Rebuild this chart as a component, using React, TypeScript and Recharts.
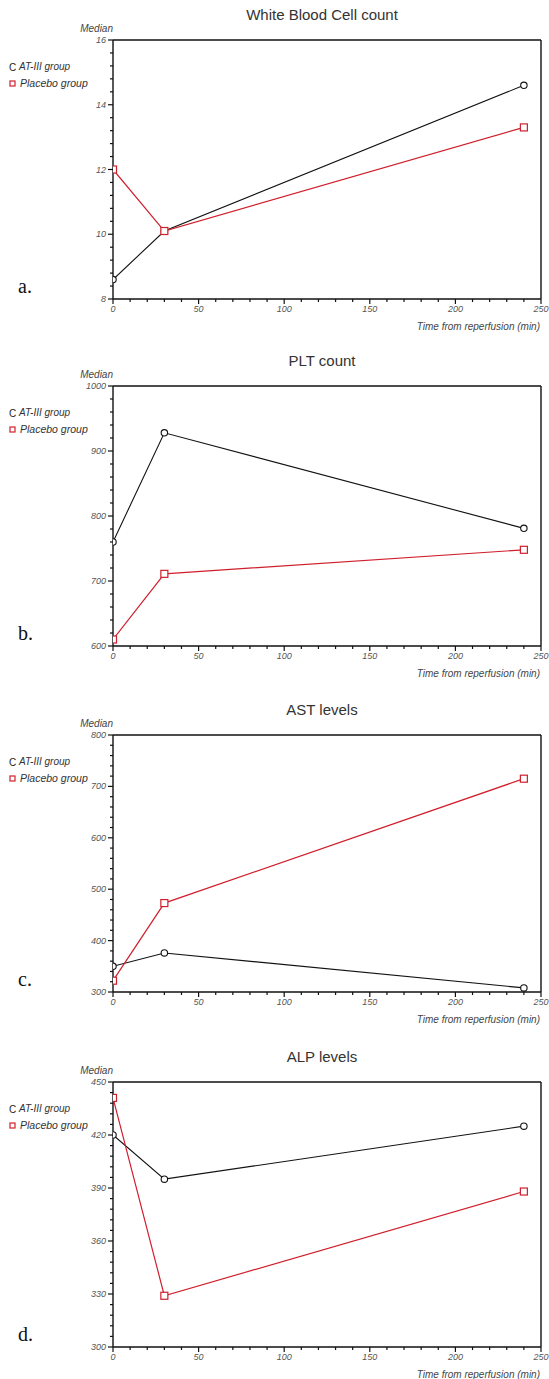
import React from 'react';
import { LineChart, Line, XAxis, YAxis, ReferenceLine } from 'recharts';

// time points (min from reperfusion)
const timePoints = [0, 30, 240];
const xMajorTicks = [0, 50, 100, 150, 200, 250];

// a. White Blood Cell count
const wbcAT = [8.6, 10.1, 14.6];
const wbcPlacebo = [12.0, 10.1, 13.3];
const wbcTicks = [8, 10, 12, 14, 16];

// b. PLT count
const pltAT = [760, 928, 781];
const pltPlacebo = [610, 711, 748];
const pltTicks = [600, 700, 800, 900, 1000];

// c. AST levels
const astAT = [350, 376, 308];
const astPlacebo = [322, 473, 715];
const astTicks = [300, 400, 500, 600, 700, 800];

// d. ALP levels
const alpAT = [420, 395, 425];
const alpPlacebo = [441, 329, 388];
const alpTicks = [300, 330, 360, 390, 420, 450];

const seriesNames = ['AT-III group', 'Placebo group'];
const RED = '#d01f2c';
const FONT = '"Liberation Sans", Arial, sans-serif';

type PanelDef = {
  letter: string;
  title: string;
  at: number[];
  pl: number[];
  majors: number[];
  minorDiv: number;
  plotTop: number;
  plotBottom: number;
};

const panels: PanelDef[] = [
  { letter: 'a.', title: 'White Blood Cell count', at: wbcAT, pl: wbcPlacebo, majors: wbcTicks, minorDiv: 5, plotTop: 40, plotBottom: 299 },
  { letter: 'b.', title: 'PLT count', at: pltAT, pl: pltPlacebo, majors: pltTicks, minorDiv: 5, plotTop: 386, plotBottom: 646 },
  { letter: 'c.', title: 'AST levels', at: astAT, pl: astPlacebo, majors: astTicks, minorDiv: 5, plotTop: 735, plotBottom: 992 },
  { letter: 'd.', title: 'ALP levels', at: alpAT, pl: alpPlacebo, majors: alpTicks, minorDiv: 5, plotTop: 1082, plotBottom: 1347 },
];

const PLOT_LEFT = 113;
const PLOT_RIGHT = 541;
const W = 549;
const MARGIN_T = 40;
const MARGIN_B = 40;
const X_AXIS_H = 1;

function withMinors(majors: number[], div: number): number[] {
  const out: number[] = [];
  for (let i = 0; i < majors.length - 1; i++) {
    const step = (majors[i + 1] - majors[i]) / div;
    for (let k = 0; k < div; k++) out.push(+(majors[i] + k * step).toFixed(4));
  }
  out.push(majors[majors.length - 1]);
  return out;
}

const isMajor = (v: number, majors: number[]) => majors.some((m) => Math.abs(m - v) < 1e-6);

const YTick = (props: any) => {
  const { x, y, payload, majors } = props;
  const major = isMajor(payload.value, majors);
  return (
    <g>
      <line x1={x - (major ? 5 : 3)} x2={x} y1={y} y2={y} stroke="#111" strokeWidth={1.2} />
      {major && (
        <text x={x - 7} y={y} textAnchor="end" dominantBaseline="central" fontSize={9} fontStyle="italic" fontFamily={FONT} fill="#555">
          {payload.value}
        </text>
      )}
    </g>
  );
};

const XTick = (props: any) => {
  const { x, y, payload } = props;
  const major = isMajor(payload.value, xMajorTicks);
  return (
    <g>
      <line x1={x} x2={x} y1={y} y2={y + (major ? 5 : 3)} stroke="#111" strokeWidth={1.2} />
      {major && (
        <text x={x} y={y + 10} textAnchor="middle" dominantBaseline="central" fontSize={9} fontStyle="italic" fontFamily={FONT} fill="#555">
          {payload.value}
        </text>
      )}
    </g>
  );
};

const SquareDot = (props: any) => {
  const { cx, cy, index } = props;
  if (cx == null || cy == null) return <g key={index} />;
  return <rect key={index} x={cx - 3.5} y={cy - 3.5} width={7} height={7} fill="#fff" stroke={RED} strokeWidth={1.2} />;
};

function Panel({ def }: { def: PanelDef }) {
  const plotH = def.plotBottom - def.plotTop;
  const H = plotH + MARGIN_T + MARGIN_B;
  const top = def.plotTop - MARGIN_T;
  const data = timePoints.map((t, i) => ({ t, at: def.at[i], pl: def.pl[i] }));
  const yMin = def.majors[0];
  const yMax = def.majors[def.majors.length - 1];
  const xTicks = withMinors(xMajorTicks, 5);
  const yTicks = withMinors(def.majors, def.minorDiv);
  const P = MARGIN_T;
  const B = MARGIN_T + plotH;
  return (
    <div style={{ position: 'absolute', left: 0, top, width: W, height: H }}>
      <LineChart width={W} height={H} data={data} margin={{ top: MARGIN_T, right: W - PLOT_RIGHT, bottom: MARGIN_B - X_AXIS_H, left: 63 }}>
        <XAxis
          dataKey="t"
          type="number"
          domain={[0, 250]}
          ticks={xTicks}
          interval={0}
          height={X_AXIS_H}
          tickSize={0}
          tickMargin={0}
          tickLine={false}
          axisLine={{ stroke: '#111', strokeWidth: 1.4 }}
          tick={(p: any) => <XTick {...p} />}
          allowDataOverflow
        />
        <YAxis
          type="number"
          domain={[yMin, yMax]}
          ticks={yTicks}
          interval={0}
          width={50}
          tickSize={0}
          tickMargin={0}
          tickLine={false}
          axisLine={{ stroke: '#111', strokeWidth: 1.4 }}
          tick={(p: any) => <YTick {...p} majors={def.majors} />}
          allowDataOverflow
        />
        <ReferenceLine y={yMax} stroke="#111" strokeWidth={1.4} />
        <ReferenceLine x={250} stroke="#111" strokeWidth={1.4} />
        <Line
          dataKey="at"
          name={seriesNames[0]}
          stroke="#111"
          strokeWidth={1.1}
          dot={{ r: 3.2, stroke: '#111', strokeWidth: 1.1, fill: '#fff' }}
          isAnimationActive={false}
        />
        <Line
          dataKey="pl"
          name={seriesNames[1]}
          stroke={RED}
          strokeWidth={1.2}
          dot={(p: any) => <SquareDot {...p} />}
          isAnimationActive={false}
        />
      </LineChart>
      <svg width={W} height={H} style={{ position: 'absolute', left: 0, top: 0, pointerEvents: 'none' }}>
        <text x={322} y={P - 26} textAnchor="middle" dominantBaseline="central" fontSize={15} fontFamily={FONT} fill="#333">
          {def.title}
        </text>
        <text x={PLOT_LEFT} y={P - 12} textAnchor="end" dominantBaseline="central" fontSize={10} fontStyle="italic" fontFamily={FONT} fill="#444">
          Median
        </text>
        <text x={9} y={P + 27} dominantBaseline="central" fontSize={10} fontFamily={FONT} fill="#222">
          C
        </text>
        <text x={19} y={P + 26} dominantBaseline="central" fontSize={10} fontStyle="italic" fontFamily={FONT} fill="#333">
          {seriesNames[0]}
        </text>
        <rect x={10} y={P + 41} width={5} height={5} fill="none" stroke={RED} strokeWidth={1.2} />
        <text x={20} y={P + 43} dominantBaseline="central" fontSize={10.5} fontStyle="italic" fontFamily={FONT} fill="#333">
          {seriesNames[1]}
        </text>
        <text x={18} y={B - 13} dominantBaseline="central" fontSize={20} fontFamily='"Liberation Serif", "Times New Roman", serif' fill="#111">
          {def.letter}
        </text>
        <text x={540} y={B + 27} textAnchor="end" dominantBaseline="central" fontSize={10} fontStyle="italic" fontFamily={FONT} fill="#444">
          Time from reperfusion (min)
        </text>
      </svg>
    </div>
  );
}

export default function App() {
  return (
    <div style={{ position: 'absolute', left: 0, top: 0, width: W, height: 1379, background: '#fff', overflow: 'hidden' }}>
      {panels.map((def) => (
        <Panel key={def.letter} def={def} />
      ))}
    </div>
  );
}
